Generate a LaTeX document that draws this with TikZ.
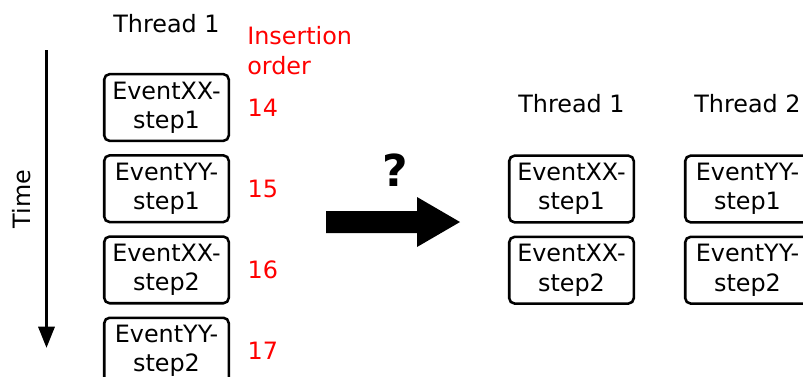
\documentclass[tikz,border=0pt]{standalone}
\usepackage{fontspec}
\setmainfont{DejaVu Sans}
\usetikzlibrary{positioning, arrows.meta}

\begin{document}
\begin{tikzpicture}[x=0.75pt, y=-0.75pt, >={Triangle[width=12pt, length=16pt]}, node distance=9pt,
  event/.style={draw, line width=1.9pt, rounded corners=4pt, minimum width=93.4pt, minimum height=50pt, inner sep=0pt, align=center, font=\fontsize{17.9}{22}\selectfont},
  thread/.style={inner sep=0pt, font=\fontsize{17.9}{22}\selectfont},
  order/.style={inner sep=0pt, text=red, font=\fontsize{17.9}{22.5}\selectfont}]
  \useasboundingbox (0,0) rectangle (803,376);
  \clip (0,0) rectangle (803,376);

  % events in insertion order
  \node[event] (xx1) at (166.5,107.5) {EventXX-\\step1};
  \node[event, below=of xx1] (yy1) {EventYY-\\step1};
  \node[event, below=of yy1] (xx2) {EventXX-\\step2};
  \node[event, below=of xx2] (yy2) {EventYY-\\step2};
  \node[thread, above=30pt of xx1] (thr) {Thread 1};

  \node[order, right=13pt of xx1] (n14) {14};
  \node[order, right=13pt of yy1] (n15) {15};
  \node[order, right=13pt of xx2] (n16) {16};
  \node[order, right=13pt of yy2] (n17) {17};
  \node[order, align=left, anchor=west] (ins) at (247,51) {Insertion\\order};

  % time axis
  \coordinate (tstart) at (46.5,50);
  \coordinate (tend) at (46.5,348);
  \draw[->, line width=2.5pt] (tstart) -- (tend);
  \node[thread, rotate=90] (time) at (22,199) {Time};

  % big arrow
  \coordinate (tail) at (326,222);
  \fill (tail) ++(0,-11) -- ++(91,0) -- ++(0,-14) -- ++(43,25) -- ++(-43,25) -- ++(0,-14) -- ++(-91,0) -- cycle;
  \node[inner sep=0pt, font=\bfseries\fontsize{33}{40}\selectfont] (q) at (395,170) {?};

  % split per thread
  \node[event] (rx1) at (571.5,189) {EventXX-\\step1};
  \node[event, below=of rx1] (rx2) {EventXX-\\step2};
  \node[event] (ry1) at (747.5,189) {EventYY-\\step1};
  \node[event, below=of ry1] (ry2) {EventYY-\\step2};
  \node[thread, above=31pt of rx1] (th1) {Thread 1};
  \node[thread, above=31pt of ry1] (th2) {Thread 2};
\end{tikzpicture}
\end{document}
